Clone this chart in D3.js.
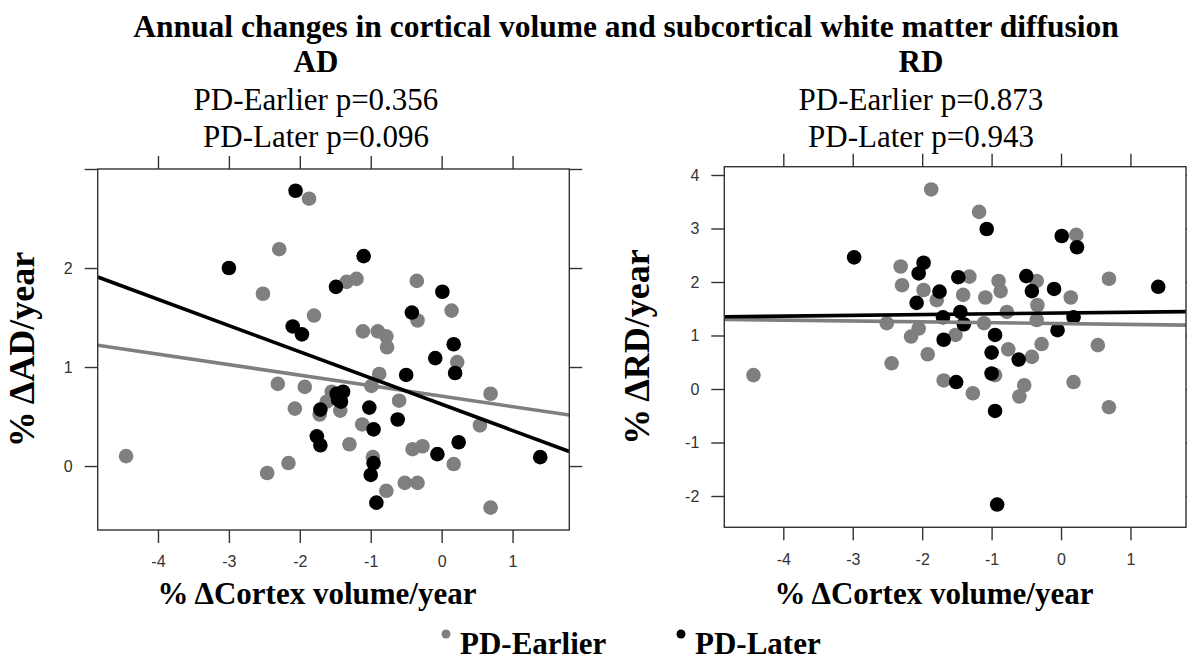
<!DOCTYPE html>
<html>
<head>
<meta charset="utf-8">
<script src="https://cdn.jsdelivr.net/npm/d3@7"></script>
<style>
  body { margin: 0; background: #fff; }
  svg { display: block; }
  .serif { font-family: "Liberation Serif", "Times New Roman", serif; fill: #000; }
  .tick text { font-family: "Liberation Sans", Arial, sans-serif; font-size: 16px; fill: #333; }
  .tick line { stroke: #333; stroke-width: 1.4; }
</style>
</head>
<body>
<script>
// x ticks shared by both panels
const xTicks = [-4, -3, -2, -1, 0, 1]

// AD panel
const adYTicks = [0, 1, 2, 3]
const adYTickLabels = ["0", "1", "2", ""]
const adEarlyX = [-4.45, -2.52, -2.29, -1.87, -1.80, -1.34, -1.20, -1.11, -0.90, -0.78, -0.77, -0.35, 0.14, -0.34, 0.22, -0.88, -0.99, -1.93, -2.31, -2.07, -1.55, -1.62, -1.72, -1.43, -1.30, -1.12, -0.60, 0.69, 0.54, -0.41, -0.27, 0.17, -0.97, -0.52, -0.34, -0.78, 0.69, -2.46, -2.16]
const adEarlyY = [0.10, 1.74, 2.19, 2.70, 1.52, 1.86, 1.89, 1.36, 1.36, 1.31, 1.20, 1.87, 1.57, 1.47, 1.05, 0.93, 0.81, 0.80, 0.83, 0.58, 0.75, 0.65, 0.52, 0.56, 0.22, 0.42, 0.66, 0.73, 0.41, 0.17, 0.20, 0.02, 0.09, -0.17, -0.17, -0.25, -0.42, -0.07, 0.03]
const adLateX = [-2.06, -3.00, -2.10, -1.97, -1.49, -1.10, 0.01, -0.42, 0.17, -0.09, 0.19, -0.50, -1.48, -1.39, -1.46, -1.42, -1.71, -1.76, -1.71, -1.02, -0.96, -0.62, 0.24, -0.06, -0.96, -1.00, -0.92, 1.39]
const adLateY = [2.78, 2.00, 1.41, 1.33, 1.81, 2.12, 1.76, 1.55, 1.23, 1.09, 0.94, 0.92, 0.73, 0.75, 0.67, 0.65, 0.57, 0.30, 0.21, 0.59, 0.37, 0.47, 0.24, 0.12, 0.03, -0.09, -0.37, 0.09]
// fitted lines: [intercept, slope]
const adFitEarly = [0.706, -0.106]
const adFitLate = [0.624, -0.265]

// RD panel
const rdYTicks = [-2, -1, 0, 1, 2, 3, 4]
const rdYTickLabels = ["-2", "-1", "0", "1", "2", "3", "4"]
const rdEarlyX = [-4.43, -2.44, -2.51, -2.31, -2.29, -2.16, -1.87, -1.18, 0.22, -1.98, -1.79, -1.32, -1.41, -1.09, -0.90, -0.87, -0.35, 0.14, -0.34, 0.69, -0.78, -1.11, -0.35, -2.05, -1.52, -0.28, 0.53, -1.92, -0.76, -0.42, -0.95, -1.69, -1.27, -0.53, -0.60, 0.18, 0.69]
const rdEarlyY = [0.26, 0.48, 1.23, 2.29, 1.94, 0.98, 3.73, 3.31, 2.88, 1.85, 1.66, 2.10, 1.76, 1.71, 2.02, 1.83, 2.02, 1.71, 1.57, 2.06, 1.44, 1.23, 1.29, 1.13, 1.01, 0.84, 0.82, 0.65, 0.74, 0.60, 0.26, 0.16, -0.08, 0.07, -0.14, 0.13, -0.34]
const rdLateX = [-2.98, -1.07, 0.01, 0.23, -1.98, -2.05, -1.75, -2.08, -1.48, -0.50, -0.42, -0.10, 1.40, -1.45, -1.70, -1.40, 0.18, -1.69, -0.95, -0.05, -1.00, -0.61, -1.00, -1.51, -0.95, -0.92]
const rdLateY = [2.46, 2.99, 2.86, 2.65, 2.36, 2.16, 1.82, 1.61, 2.09, 2.11, 1.83, 1.87, 1.91, 1.44, 1.34, 1.21, 1.34, 0.92, 1.01, 1.10, 0.68, 0.55, 0.29, 0.13, -0.41, -2.16]
const rdFitEarly = [1.223, -0.016]
const rdFitLate = [1.420, 0.0145]

const grey = "#7f7f7f"

var svg = d3.select("body").append("svg")
  .attr("width", 1187)
  .attr("height", 661)

function drawPanel(p) {
  var x = d3.scaleLinear().domain([-4.85, 1.80]).range([p.left, p.right])
  var y = d3.scaleLinear().domain(p.yDomain).range([p.bottom, p.top])
  var g = svg.append("g")

  g.append("clipPath").attr("id", p.id + "-clip")
    .append("rect")
      .attr("x", p.left).attr("y", p.top)
      .attr("width", p.right - p.left).attr("height", p.bottom - p.top)

  // axes on all four sides, labels only bottom / left
  g.append("g")
    .attr("transform", "translate(0," + p.bottom + ")")
    .call(d3.axisBottom(x).tickValues(xTicks).tickSize(13).tickPadding(13)
      .tickFormat(function(d) { return String(d) }))
  g.append("g")
    .attr("transform", "translate(0," + p.top + ")")
    .call(d3.axisTop(x).tickValues(xTicks).tickSize(13).tickFormat(""))
  g.append("g")
    .attr("transform", "translate(" + p.left + ",0)")
    .call(d3.axisLeft(y).tickValues(p.yTicks).tickSize(13).tickPadding(12)
      .tickFormat(function(d, i) { return p.yLabels[i] }))
  g.append("g")
    .attr("transform", "translate(" + p.right + ",0)")
    .call(d3.axisRight(y).tickValues(p.yTicks).tickSize(13).tickFormat(""))
  g.selectAll(".domain").remove()

  var plot = g.append("g").attr("clip-path", "url(#" + p.id + "-clip)")

  plot.selectAll("circle.early")
    .data(d3.zip(p.earlyX, p.earlyY))
    .enter().append("circle")
      .attr("class", "early")
      .attr("cx", function(d) { return x(d[0]) })
      .attr("cy", function(d) { return y(d[1]) })
      .attr("r", 7.3)
      .attr("fill", grey)

  plot.selectAll("circle.late")
    .data(d3.zip(p.lateX, p.lateY))
    .enter().append("circle")
      .attr("class", "late")
      .attr("cx", function(d) { return x(d[0]) })
      .attr("cy", function(d) { return y(d[1]) })
      .attr("r", 7.3)
      .attr("fill", "#000")

  var line = d3.line()
    .x(function(d) { return x(d[0]) })
    .y(function(d) { return y(d[1]) })
  var xs = x.domain()
  var fits = [[p.fitEarly, grey], [p.fitLate, "#000"]]
  fits.forEach(function(f) {
    plot.append("path")
      .attr("d", line(xs.map(function(v) { return [v, f[0][0] + f[0][1] * v] })))
      .attr("stroke", f[1])
      .attr("stroke-width", 3.6)
      .attr("fill", "none")
  })

  // box
  g.append("rect")
    .attr("x", p.left).attr("y", p.top)
    .attr("width", p.right - p.left).attr("height", p.bottom - p.top)
    .attr("fill", "none").attr("stroke", "#333").attr("stroke-width", 1.4)

  // texts
  g.append("text").attr("class", "serif")
    .attr("x", p.titleX).attr("y", 72)
    .attr("text-anchor", "middle").attr("font-size", 31).attr("font-weight", "bold")
    .text(p.title)
  p.pvals.forEach(function(t, i) {
    g.append("text").attr("class", "serif")
      .attr("x", p.titleX).attr("y", 110 + i * 37)
      .attr("text-anchor", "middle").attr("font-size", 31)
      .text(t)
  })
  g.append("text").attr("class", "serif")
    .attr("x", p.xLabelX).attr("y", 604)
    .attr("text-anchor", "middle").attr("font-size", 31).attr("font-weight", "bold")
    .text("% \u0394Cortex volume/year")
  g.append("text").attr("class", "serif")
    .attr("transform", "translate(" + p.yLabelX + "," + ((p.top + p.bottom) / 2) + ") rotate(-90)")
    .attr("text-anchor", "middle").attr("font-size", 36).attr("font-weight", "bold")
    .text(p.yLabel)
}

drawPanel({
  id: "ad", left: 97.7, right: 569.3, top: 169, bottom: 530,
  yDomain: [-0.646, 3.0], yTicks: adYTicks, yLabels: adYTickLabels,
  earlyX: adEarlyX, earlyY: adEarlyY, lateX: adLateX, lateY: adLateY,
  fitEarly: adFitEarly, fitLate: adFitLate,
  title: "AD", titleX: 316, pvals: ["PD-Earlier p=0.356", "PD-Later p=0.096"],
  xLabelX: 317, yLabelX: 34, yLabel: "% \u0394AD/year"
})

drawPanel({
  id: "rd", left: 724.3, right: 1186, top: 166.7, bottom: 527.3,
  yDomain: [-2.585, 4.155], yTicks: rdYTicks, yLabels: rdYTickLabels,
  earlyX: rdEarlyX, earlyY: rdEarlyY, lateX: rdLateX, lateY: rdLateY,
  fitEarly: rdFitEarly, fitLate: rdFitLate,
  title: "RD", titleX: 921, pvals: ["PD-Earlier p=0.873", "PD-Later p=0.943"],
  xLabelX: 934, yLabelX: 649, yLabel: "% \u0394RD/year"
})

// main title
svg.append("text").attr("class", "serif")
  .attr("x", 626).attr("y", 37)
  .attr("text-anchor", "middle").attr("font-size", 31.5).attr("font-weight", "bold")
  .text("Annual changes in cortical volume and subcortical white matter diffusion")

// legend
const legendNames = ["PD-Earlier", "PD-Later"]
const legendColors = [grey, "#000"]
var legend = svg.selectAll("g.legend")
  .data(legendNames)
  .enter().append("g")
    .attr("class", "legend")
    .attr("transform", function(d, i) { return "translate(" + [446, 681][i] + ",0)" })
legend.append("circle")
  .attr("cx", 0).attr("cy", 634).attr("r", 4.5)
  .attr("fill", function(d, i) { return legendColors[i] })
legend.append("text").attr("class", "serif")
  .attr("x", 14).attr("y", 654)
  .attr("font-size", 31).attr("font-weight", "bold")
  .text(function(d) { return d })
</script>
</body>
</html>
